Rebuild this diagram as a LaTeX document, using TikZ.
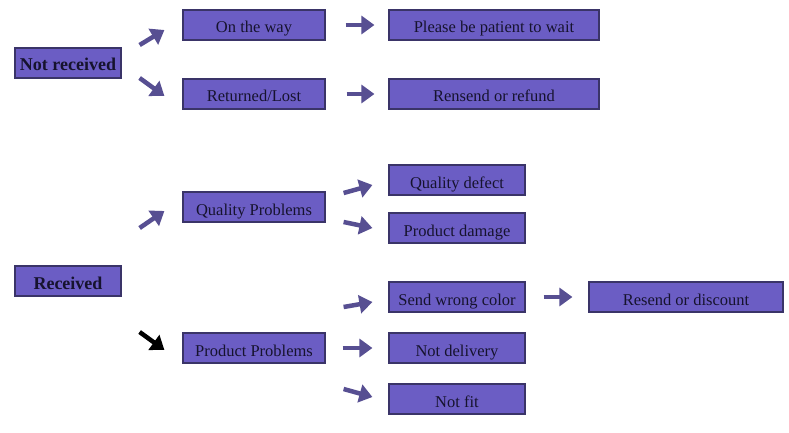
\documentclass[tikz,border=0pt]{standalone}
\usepackage{fontspec}
\setmainfont{Liberation Serif}
\usetikzlibrary{arrows.meta}
\definecolor{boxBlue}{HTML}{6B5DC4}
\definecolor{boxEdge}{HTML}{3A3468}
\definecolor{arrowBlue}{HTML}{574F92}
\definecolor{textNavy}{HTML}{16132E}

\begin{document}
\begin{tikzpicture}
[x=1pt,y=-1pt,%
  blueArrow/.style={-{Triangle[length=13pt,width=18pt]},line width=4.5pt,color=arrowBlue},%
  blackArrow/.style={blueArrow,color=black},%
  boxDecorate/.style={shape=rectangle,fill=boxBlue,draw=boxEdge,line width=1.2pt,inner sep=0pt,minimum height=30pt,text height=17pt,text depth=1pt,text=textNavy,font=\fontsize{16.5}{18}\selectfont},%
  rootDecorate/.style={boxDecorate,font=\fontsize{18}{20}\selectfont\bfseries}]
%% page
\path[fill=white,use as bounding box] (0,0) rectangle (789,433);
%% first column
\foreach \nodename/\x/\y/\w/\nodetext in {nr/68/63/106/Not received, rec/68/281/106/Received}
{
  \node (\nodename) at (\x,\y) [rootDecorate,minimum width=\w pt] {\nodetext};
}
%% other boxes
\foreach \nodename/\x/\y/\w/\nodetext in {otw/254/25/142/On the way, ret/254/94/142/{Returned/Lost},
  pat/494/25/210/Please be patient to wait, ref/494/94/210/Rensend or refund,
  qp/254/207/142/Quality Problems, pp/254/348/142/Product Problems,
  qd/457/180/136/Quality defect, pd/457/228/136/Product damage,
  swc/457/297/136/Send wrong color, nd/457/348/136/Not delivery,
  nf/457/399/136/Not fit, rd/686/297/194/Resend or discount}
{
  \node (\nodename) at (\x,\y) [boxDecorate,minimum width=\w pt] {\nodetext};
}
%% blue arrows
\foreach \startnode/\sx/\sy/\endnode/\ex/\ey in {nr/18/-18/otw/-18/5, nr/18/15/ret/-18/2,
  otw/20/0/pat/-14/0, ret/21/0/ref/-14/0, rec/18/-53/qp/-18/4,
  qp/18/-14/qd/-16/5, qp/18/15/pd/-16/0, pp/18/-41/swc/-16/5,
  pp/17/0/nd/-16/0, pp/18/41/nf/-16/-2, swc/18/0/rd/-16/0}
{
  \draw[blueArrow] ([shift={(\sx,\sy)}]\startnode.east) -- ([shift={(\ex,\ey)}]\endnode.west);
}
%% black arrow
\draw[blackArrow] ([shift={(18,51)}]rec.east) -- ([shift={(-18,2)}]pp.west);
\end{tikzpicture}
\end{document}
